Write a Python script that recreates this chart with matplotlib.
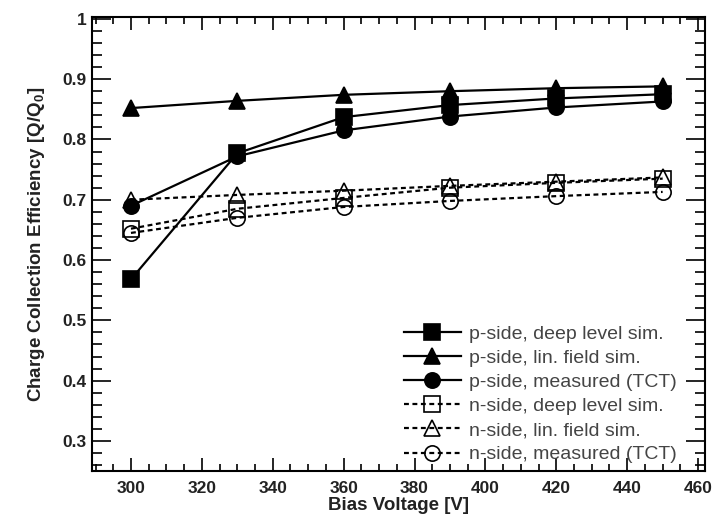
import matplotlib
matplotlib.use("Agg")
import matplotlib.pyplot as plt
from matplotlib.ticker import MultipleLocator

plt.rcParams['font.family'] = ['Liberation Sans', 'DejaVu Sans']
plt.rcParams['mathtext.fontset'] = 'custom'
plt.rcParams['mathtext.bf'] = 'Liberation Sans:bold'
plt.rcParams['mathtext.rm'] = 'Liberation Sans:bold'

voltage = [300, 330, 360, 390, 420, 450]
p_deep = [0.568, 0.777, 0.837, 0.857, 0.868, 0.875]
p_lin = [0.852, 0.864, 0.874, 0.880, 0.885, 0.888]
p_meas = [0.690, 0.772, 0.815, 0.838, 0.853, 0.863]
n_deep = [0.652, 0.685, 0.703, 0.720, 0.728, 0.735]
n_lin = [0.700, 0.708, 0.715, 0.723, 0.730, 0.737]
n_meas = [0.645, 0.670, 0.688, 0.698, 0.706, 0.713]

labels = ["p-side, deep level sim.", "p-side, lin. field sim.", "p-side, measured (TCT)",
          "n-side, deep level sim.", "n-side, lin. field sim.", "n-side, measured (TCT)"]

fig = plt.figure(figsize=(7.13, 5.16), dpi=100)
ax = fig.add_axes([0.129, 0.087, 0.860, 0.880])

dotted = (0, (2.2, 1.6))
series = [
    (p_deep, 's', 'black', '-', 11, 3),
    (p_lin, '^', 'black', '-', 11.5, 3),
    (p_meas, 'o', 'black', '-', 11, 3),
    (n_deep, 's', 'none', dotted, 11, 2),
    (n_lin, '^', 'none', dotted, 11.5, 2),
    (n_meas, 'o', 'none', dotted, 11, 2),
]
for (vals, mk, fc, ls, ms, z), lab in zip(series, labels):
    ax.plot(voltage, vals, marker=mk, markerfacecolor=fc, markeredgecolor='black',
            markeredgewidth=1.2, color='black', linestyle=ls, linewidth=1.6,
            markersize=ms, label=lab, zorder=z)

ax.set_xlim(289, 462)
ax.set_ylim(0.25, 1.003)
ax.xaxis.set_major_locator(MultipleLocator(20))
ax.xaxis.set_minor_locator(MultipleLocator(5))
ax.yaxis.set_minor_locator(MultipleLocator(0.02))
ax.set_yticks([0.3, 0.4, 0.5, 0.6, 0.7, 0.8, 0.9, 1.0])
ax.set_yticklabels(['0.3', '0.4', '0.5', '0.6', '0.7', '0.8', '0.9', '1'])

ax.tick_params(axis='x', which='major', direction='in', length=9.5, width=1.2, top=True, labelsize=12.5, pad=7)
ax.tick_params(axis='x', which='minor', direction='in', length=5, width=1.2, top=True)
ax.tick_params(axis='y', which='major', direction='in', length=14, width=1.2, right=True, labelsize=12.5, pad=4)
ax.tick_params(axis='y', which='minor', direction='in', length=7, width=1.2, right=True)
for lab in ax.get_xticklabels() + ax.get_yticklabels():
    lab.set_fontweight('bold')
    lab.set_color('#222222')
for sp in ax.spines.values():
    sp.set_linewidth(1.5)

ax.set_xlabel('Bias Voltage [V]', fontsize=13.5, fontweight='bold', labelpad=0.5, color='#222222')
ax.set_ylabel(r'Charge Collection Efficiency [Q/Q$_\mathbf{0}$]', fontsize=13.5,
              fontweight='bold', labelpad=11, color='#222222')

leg = ax.legend(loc='lower right', bbox_to_anchor=(0.967, 0.0), frameon=False,
                fontsize=14, handlelength=2.9, labelspacing=0.33, handletextpad=0.45,
                borderaxespad=0.0)
for t in leg.get_texts():
    t.set_color('#444444')

fig.savefig('out.png', dpi=100)
